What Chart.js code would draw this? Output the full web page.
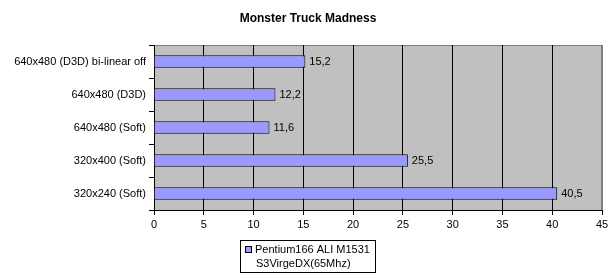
<!DOCTYPE html>
<html>
<head>
<meta charset="utf-8">
<script src="https://cdn.jsdelivr.net/npm/chart.js@4/dist/chart.umd.min.js"></script>
<style>
  html, body { margin: 0; padding: 0; background: #fff; }
  #wrap { width: 616px; height: 277px; }
</style>
</head>
<body>
<div id="wrap"><canvas id="chart"></canvas></div>
<script>
const categories = ['640x480 (D3D) bi-linear off', '640x480 (D3D)', '640x480 (Soft)', '320x400 (Soft)', '320x240 (Soft)'];
const fpsValues = [15.2, 12.2, 11.6, 25.5, 40.5];
const seriesName = ['Pentium166 ALI M1531', 'S3VirgeDX(65Mhz)'];
const xTicks = [0, 5, 10, 15, 20, 25, 30, 35, 40, 45];
const chartTitle = 'Monster Truck Madness';

const FONT = '"Liberation Sans", Arial, sans-serif';

// grey plot background, title, value labels and the boxed legend
const excelLook = {
    id: 'excelLook',
    beforeDraw(chart) {
        const { ctx, chartArea: a } = chart;
        ctx.save();
        ctx.fillStyle = '#c0c0c0';
        ctx.fillRect(a.left, a.top, a.right - a.left, a.bottom - a.top);
        ctx.strokeStyle = '#808080';
        ctx.lineWidth = 1;
        ctx.strokeRect(a.left + 0.5, a.top + 0.5, a.right - a.left - 1, a.bottom - a.top);
        ctx.restore();
    },
    afterDraw(chart) {
        const { ctx } = chart;
        ctx.save();
        // title
        ctx.fillStyle = '#000';
        ctx.font = 'bold 12px ' + FONT;
        ctx.textAlign = 'center';
        ctx.textBaseline = 'middle';
        ctx.fillText(chartTitle, 308, 19);

        // value labels
        ctx.font = '11px ' + FONT;
        ctx.textAlign = 'left';
        const meta = chart.getDatasetMeta(0);
        meta.data.forEach((bar, i) => {
            ctx.fillText(fpsValues[i].toFixed(1).replace('.', ','), bar.x + 4, bar.y);
        });

        // legend box
        ctx.fillStyle = '#fff';
        ctx.fillRect(241, 241, 135, 32);
        ctx.strokeStyle = '#000';
        ctx.lineWidth = 1;
        ctx.strokeRect(240.5, 240.5, 135, 32);
        ctx.fillStyle = '#9999ff';
        ctx.fillRect(246, 247, 5, 5);
        ctx.strokeRect(245.5, 246.5, 6, 6);
        ctx.fillStyle = '#000';
        ctx.fillText(seriesName[0], 255, 250);
        ctx.fillText(seriesName[1], 256, 264);
        ctx.restore();
    }
};

new Chart(document.getElementById('chart'), {
    type: 'bar',
    data: {
        labels: categories,
        datasets: [{
            label: seriesName.join(' '),
            data: fpsValues,
            backgroundColor: '#9999ff',
            borderColor: '#000',
            borderWidth: 1,
            categoryPercentage: 1,
            barPercentage: 0.38,
        }],
    },
    options: {
        indexAxis: 'y',
        responsive: true,
        maintainAspectRatio: false,
        animation: false,
        layout: {
            padding: { top: 45, right: 14, bottom: 42, left: 0 },
        },
        plugins: {
            legend: { display: false },
            title: { display: false },
            tooltip: { enabled: false },
        },
        scales: {
            x: {
                min: 0,
                max: 45,
                afterBuildTicks(scale) {
                    scale.ticks = xTicks.map(v => ({ value: v }));
                },
                afterFit(scale) {
                    scale.height = 25;
                },
                ticks: {
                    color: '#000',
                    font: { family: FONT, size: 11 },
                    padding: 3,
                },
                grid: {
                    color: ctx => (ctx.tick && ctx.tick.value === 45 ? '#808080' : '#000'),
                    tickColor: '#000',
                    tickLength: 5,
                    lineWidth: 1,
                },
                border: { color: '#000' },
            },
            y: {
                afterFit(scale) {
                    scale.width = 154;
                },
                ticks: {
                    color: '#000',
                    font: { family: FONT, size: 11 },
                    padding: 3,
                },
                grid: {
                    offset: true,
                    drawOnChartArea: false,
                    tickColor: '#000',
                    tickLength: 5,
                },
                border: { color: '#000' },
            },
        },
    },
    plugins: [excelLook],
});
</script>
</body>
</html>
